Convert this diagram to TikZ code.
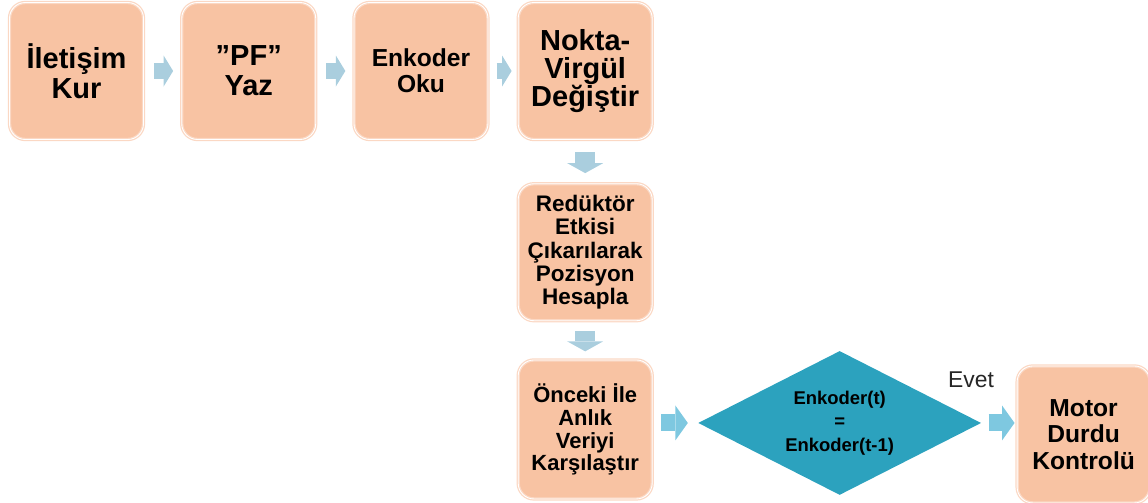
\documentclass[tikz,border=0pt]{standalone}
\usepackage{fontspec}
\setmainfont{Liberation Sans}
\usepackage{tikz}
\usetikzlibrary{
    shapes.geometric,
    arrows.meta,
    positioning,
    calc
}
\definecolor{Cpeach}{RGB}{248, 195, 163}
\definecolor{Cpeachlt}{RGB}{251, 216, 196}
\definecolor{Cteal}{RGB}{44, 162, 190}
\definecolor{Carrlt}{RGB}{170, 206, 222}
\definecolor{Carrdk}{RGB}{126, 200, 224}
\newcommand\fbuyuk{\fontsize{16.5}{17}\selectfont\bfseries}
\newcommand\forta{\fontsize{14}{15}\selectfont\bfseries}
\newcommand\fkucuk{\fontsize{12.8}{13.2}\selectfont\bfseries}
\tikzset{
    kutu/.style={
        rectangle, rounded corners=9pt, draw=Cpeachlt, double=white,
        double distance=0.5pt, line width=0.7pt, fill=Cpeach, text=black,
        minimum width=2.68cm, minimum height=2.74cm, align=center, inner sep=2pt
    },
    karar/.style={
        diamond, fill=Cteal, text=black, shape aspect=1.97,
        minimum width=5.66cm, minimum height=2.88cm, inner sep=0pt,
        align=center, font=\fontsize{10.5}{13.3}\selectfont\bfseries
    },
    okyatay/.style={-{Triangle[length=0.19cm, width=0.62cm, line width=0pt]},
        line width=0.33cm, Carrlt},
    okdikey/.style={-{Triangle[length=0.2cm, width=0.72cm, line width=0pt]},
        line width=0.4cm, Carrlt},
    okkoyu/.style={-{Triangle[length=0.25cm, width=0.7cm, line width=0pt]},
        line width=0.34cm, Carrdk},
}
\begin{document}
\begin{tikzpicture}
    \useasboundingbox (0,0) rectangle (22.96,-10.04);

    % ── üst sıra ──────────────────────────────────────────
    \node [kutu, font=\fbuyuk] (iletisim) at (1.53,-1.42) {İletişim\\Kur};
    \node [kutu, font=\fbuyuk, right=0.74cm of iletisim] (pfyaz) {”PF”\\Yaz};
    \node [kutu, font=\forta, right=0.74cm of pfyaz] (enkoku) {Enkoder\\Oku};
    \node [kutu, font=\fontsize{16.5}{15.8}\selectfont\bfseries,
           right=0.58cm of enkoku] (nokta) {Nokta-\\Virgül\\Değiştir};

    % ── dikey sütun ───────────────────────────────────────
    \node [kutu, font=\fkucuk, below=0.86cm of nokta]
        (reduktor) {Redüktör\\Etkisi\\Çıkarılarak\\Pozisyon\\Hesapla};
    \node [kutu, font=\fontsize{12.5}{13}\selectfont\bfseries,
           below=0.76cm of reduktor, minimum height=2.78cm]
        (onceki) {Önceki İle\\Anlık\\Veriyi\\Karşılaştır};

    % ── karar ve sonuç ────────────────────────────────────
    \node [karar, right=0.9cm of onceki, yshift=0.13cm]
        (esit) {Enkoder(t)\\=\\Enkoder(t-1)};
    \node [kutu, font=\forta, right=0.7cm of esit, yshift=-0.23cm,
           minimum width=2.66cm]
        (motor) {Motor\\Durdu\\Kontrolü};
    \node [font=\fontsize{13}{13}\selectfont, text=black!85]
        (evet) at (19.42,-7.6) {Evet};

    % ── oklar ─────────────────────────────────────────────
    \draw [okyatay, shorten <=0.2cm, shorten >=0.16cm] (iletisim) -- (pfyaz);
    \draw [okyatay, shorten <=0.2cm, shorten >=0.16cm] (pfyaz) -- (enkoku);
    \draw [okyatay, shorten <=0.16cm, shorten >=0.12cm] (enkoku) -- (nokta);
    \draw [okdikey, shorten <=0.24cm, shorten >=0.2cm] (nokta) -- (reduktor);
    \draw [okdikey, shorten <=0.2cm, shorten >=0.16cm] (reduktor) -- (onceki);
    \draw [okkoyu, shorten <=0.16cm, shorten >=0.2cm] (esit.west -| onceki.east) -- (esit.west);
    \draw [okkoyu, shorten <=0.14cm, shorten >=0.04cm] (esit.east) -- (esit.east -| motor.west);

\end{tikzpicture}
\end{document}
